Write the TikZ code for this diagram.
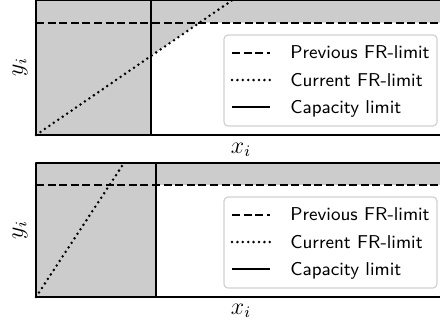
\documentclass[tikz,border=0pt]{standalone}
\usepackage{tikz}
\usetikzlibrary{calc,positioning}

\tikzset{
    prevlim/.style={line width=1pt,dash pattern=on 4pt off 1.8pt},
    currlim/.style={line width=1.4pt,line cap=round,dash pattern=on 0pt off 2.7pt},
    caplim/.style={line width=1.1pt},
    axesframe/.style={line width=0.9pt},
    legendframe/.style={draw=black!18,line width=0.6pt,fill=white,rounded corners=2pt},
    legendtext/.style={anchor=base west,inner sep=0pt,font=\sffamily\fontsize{9.3}{11}\selectfont},
    axlabel/.style={inner sep=0pt,font=\large}
}
\definecolor{infeasible}{gray}{0.8}

\newcommand{\drawLegend}[2]{
    \begin{scope}[shift={(#1)}]
        \draw[legendframe] (0,0) rectangle (213,91);
        \draw[prevlim] (8,17.5) -- (46,17.5);
        \draw[currlim] (8,45) -- (46,45);
        \draw[caplim] (8,72) -- (46,72);
        \node[legendtext] (#2prev) at (66,23.5) {Previous FR-limit};
        \node[legendtext] (#2curr) at (66,51) {Current FR-limit};
        \node[legendtext] (#2cap) at (66,78) {Capacity limit};
    \end{scope}
}

\begin{document}
\begin{tikzpicture}[x=0.5pt,y=-0.5pt,line join=round]

        \useasboundingbox (0,0) rectangle (440,329);
        \clip (0,0) rectangle (440,329);

        % --- Top panel ---
        \coordinate (topSW) at (36,135);
        \coordinate (topNE) at (446,0);
        \def\capTop{151}
        \def\prevTop{22.5}

        \fill[infeasible] (topSW) rectangle (topNE);
        \fill[white] (\capTop,135) -- (\capTop,56) -- (199.8,\prevTop) -- (446,\prevTop) -- (446,135) -- cycle;

        % Previous FR-limit
        \draw[prevlim] (36,\prevTop) -- (446,\prevTop);
        % Current FR-limit
        \draw[currlim] (topSW) -- (232.5,0);
        % Capacity limit
        \draw[caplim] (\capTop,0) -- (\capTop,135);

        \draw[axesframe] (topSW) rectangle (topNE);

        \drawLegend{224,35}{top}

        \node[axlabel] (topx) at (241,150) {$x_i$};
        \node[axlabel,rotate=90] (topy) at (20,67) {$y_i$};

        % --- Bottom panel ---
        \coordinate (botSW) at (36,297);
        \coordinate (botNE) at (446,163);
        \def\capBot{156}
        \def\prevBot{185}

        \fill[infeasible] (botSW) rectangle (botNE);
        \fill[white] (\capBot,297) rectangle (446,\prevBot);

        % Previous FR-limit
        \draw[prevlim] (36,\prevBot) -- (446,\prevBot);
        % Current FR-limit
        \draw[currlim] (botSW) -- (124,163);
        % Capacity limit
        \draw[caplim] (\capBot,163) -- (\capBot,297);

        \draw[axesframe] (botSW) rectangle (botNE);

        \drawLegend{224,197}{bot}

        \node[axlabel] (botx) at (241,311) {$x_i$};
        \node[axlabel,rotate=90] (boty) at (20,230) {$y_i$};

    \end{tikzpicture}
\end{document}
